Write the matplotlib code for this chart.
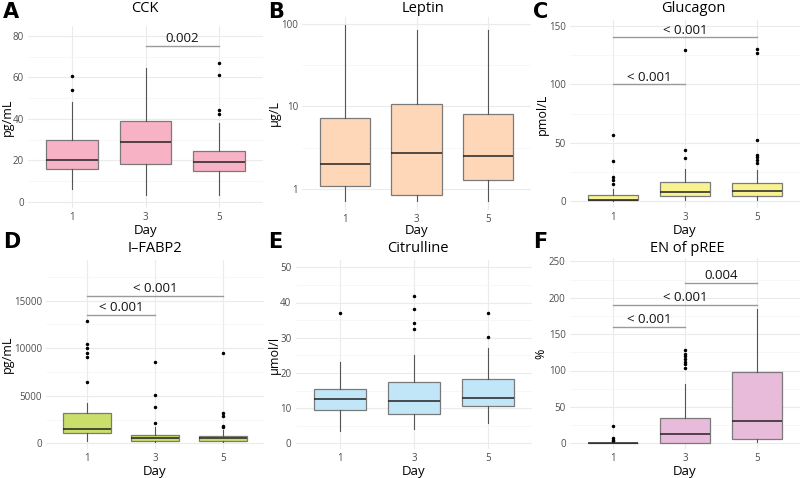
import matplotlib
matplotlib.use("Agg")
import matplotlib.pyplot as plt
from matplotlib.ticker import FixedLocator, NullFormatter
import math

plt.rcParams['font.family'] = ['Open Sans', 'DejaVu Sans']

W, H = 800, 478
days = ["1", "3", "5"]

# ---- data ----
cck_q1 = [15.9, 18.2, 15.0]; cck_med = [20.4, 28.7, 19.2]; cck_q3 = [30.1, 38.8, 24.8]
cck_lo = [6.4, 3.5, 3.5]; cck_hi = [48.3, 64.4, 38.1]
cck_out = [[60.5, 54.2], [], [67.0, 61.3, 44.1, 42.3]]

lep_q1 = [1.09, 0.853, 1.29]; lep_med = [2.01, 2.71, 2.54]; lep_q3 = [7.28, 10.6, 8.22]
lep_lo = [0.715, 0.715, 0.715]; lep_hi = [96.3, 83.8, 83.8]
lep_out = [[], [], []]

glu_q1 = [0.6, 4.6, 4.3]; glu_med = [0.9, 8.0, 8.9]; glu_q3 = [4.9, 16.3, 15.1]
glu_lo = [0.0, 0.5, 0.9]; glu_hi = [10.6, 27.1, 26.6]
glu_out = [[56.9, 34.0, 20.3, 18.0, 14.3], [129.7, 44.0, 37.1],
           [130.0, 127.1, 52.3, 39.7, 37.4, 35.1, 32.3]]

fab_q1 = [1051, 210, 210]; fab_med = [1542, 526, 526]; fab_q3 = [3154, 911, 806]
fab_lo = [200, 140, 140]; fab_hi = [4205, 1682, 1367]
fab_out = [[12827, 10409, 9988, 9533, 9077, 6400], [8587, 5082, 3785, 2173],
           [9533, 3224, 2874, 1857, 1717]]

cit_q1 = [9.4, 8.3, 10.6]; cit_med = [12.5, 11.9, 12.8]; cit_q3 = [15.4, 17.5, 18.2]
cit_lo = [3.6, 4.0, 5.9]; cit_hi = [23.1, 25.1, 27.2]
cit_out = [[37.0], [41.8, 38.2, 34.1, 32.4], [36.9, 30.2]]

en_q1 = [0.0, 0.9, 6.4]; en_med = [0.4, 12.8, 30.1]; en_q3 = [0.9, 34.2, 98.5]
en_lo = [0.0, 0.0, 1.8]; en_hi = [0.9, 82.1, 184.3]
en_out = [[23.7, 6.8, 4.6, 3.2], [127.7, 123.2, 119.5, 115.9, 112.2, 108.6, 104.0], []]

# brackets: (from index, to index, y, label)
cck_sig = [(2, 3, 75.2, "0.002")]
glu_sig = [(1, 2, 100.0, "< 0.001"), (1, 3, 140.3, "< 0.001")]
fab_sig = [(1, 2, 13493, "< 0.001"), (1, 3, 15491, "< 0.001")]
en_sig = [(1, 2, 160.1, "< 0.001"), (1, 3, 190.2, "< 0.001"), (2, 3, 220.3, "0.004")]

panels = [
    dict(letter="A", title="CCK", ylabel="pg/mL", color="#F7B3C5",
         q1=cck_q1, med=cck_med, q3=cck_q3, lo=cck_lo, hi=cck_hi, out=cck_out, sig=cck_sig,
         c1=72, sp=73.5, ref=(0, 202, 80, 36), ylim=(-3, 85), log=False,
         yticks=[0, 20, 40, 60, 80], minor=[10, 30, 50, 70],
         tx=145, ty=9, lx=3, ly=12, ylx=7, row=0),
    dict(letter="B", title="Leptin", ylabel="µg/L", color="#FDD7B8",
         q1=lep_q1, med=lep_med, q3=lep_q3, lo=lep_lo, hi=lep_hi, out=lep_out, sig=[],
         c1=345, sp=71.5, ref=(1, 189, 100, 24), ylim=(0.56, 123), log=True,
         yticks=[1, 10, 100], minor=[10 ** 0.5, 10 ** 1.5],
         tx=423, ty=9, lx=268, ly=12, ylx=274, row=0),
    dict(letter="C", title="Glucagon", ylabel="pmol/L", color="#F8F290",
         q1=glu_q1, med=glu_med, q3=glu_q3, lo=glu_lo, hi=glu_hi, out=glu_out, sig=glu_sig,
         c1=613, sp=72, ref=(0, 201, 150, 26), ylim=(-6, 155), log=False,
         yticks=[0, 50, 100, 150], minor=[25, 75, 125],
         tx=693, ty=9, lx=533, ly=12, ylx=542, row=0),
    dict(letter="D", title="I\u2013FABP2", ylabel="pg/mL", color="#CADF6B",
         q1=fab_q1, med=fab_med, q3=fab_q3, lo=fab_lo, hi=fab_hi, out=fab_out, sig=fab_sig,
         c1=87, sp=68, ref=(0, 443.3, 15000, 300.7), ylim=(-600, 19300), log=False,
         yticks=[0, 5000, 10000, 15000], minor=[2500, 7500, 12500, 17500],
         tx=155, ty=248, lx=3, ly=242, ylx=7, row=1),
    dict(letter="E", title="Citrulline", ylabel="µmol/l", color="#C1E6F8",
         q1=cit_q1, med=cit_med, q3=cit_q3, lo=cit_lo, hi=cit_hi, out=cit_out, sig=[],
         c1=340, sp=74, ref=(0, 443.3, 50, 267.3), ylim=(-1.6, 52), log=False,
         yticks=[0, 10, 20, 30, 40, 50], minor=[5, 15, 25, 35, 45],
         tx=418, ty=248, lx=268, ly=242, ylx=274, row=1),
    dict(letter="F", title="EN of pREE", ylabel="%", color="#E7BBD9",
         q1=en_q1, med=en_med, q3=en_q3, lo=en_lo, hi=en_hi, out=en_out, sig=en_sig,
         c1=613, sp=72, ref=(0, 443.3, 250, 261.3), ylim=(-8, 255), log=False,
         yticks=[0, 50, 100, 150, 200, 250], minor=[25, 75, 125, 175, 225],
         tx=687, ty=248, lx=533, ly=242, ylx=541, row=1),
]

fig = plt.figure(figsize=(W / 100, H / 100), dpi=100)


def fx(x):
    return x / W


def fy(y):
    return 1 - y / H


for p in panels:
    v0, p0, v1, p1 = p["ref"]
    lo, hi = p["ylim"]
    t = math.log10 if p["log"] else (lambda v: v)
    b = (p0 - p1) / (t(v1) - t(v0))
    pix = lambda v: p0 - b * (t(v) - t(v0))
    top_px = pix(hi)
    bot_px = pix(lo)
    left_px = p["c1"] - 0.6 * p["sp"]
    width_px = 3.2 * p["sp"]
    ax = fig.add_axes([fx(left_px), fy(bot_px), width_px / W, (bot_px - top_px) / H])
    if p["log"]:
        ax.set_yscale("log")
    ax.set_ylim(lo, hi)
    ax.set_xlim(0.4, 3.6)
    stats = []
    for i in range(3):
        stats.append(dict(q1=p["q1"][i], med=p["med"][i], q3=p["q3"][i],
                          whislo=p["lo"][i], whishi=p["hi"][i], fliers=p["out"][i],
                          label=days[i]))
    ax.bxp(stats, positions=[1, 2, 3], widths=0.7, patch_artist=True,
           showfliers=True,
           boxprops=dict(facecolor=p["color"], edgecolor="#7a7a7a", linewidth=0.9),
           medianprops=dict(color="#222222", linewidth=1.1),
           whiskerprops=dict(color="#555555", linewidth=0.8),
           capprops=dict(linewidth=0),
           flierprops=dict(marker="o", markersize=1.5, markerfacecolor="black",
                           markeredgecolor="black", linestyle="none"),
           zorder=3)
    for (a, c, yv, lab) in p["sig"]:
        ax.plot([a, c], [yv, yv], color="#9a9a9a", lw=1.0, zorder=4)
        ax.annotate(lab, xy=((a + c) / 2, yv), xytext=(0, 0.5), textcoords="offset points",
                    ha="center", va="bottom", fontsize=9.5, color="#111111")
    ax.yaxis.set_major_locator(FixedLocator(p["yticks"]))
    ax.yaxis.set_minor_locator(FixedLocator(p["minor"]))
    ax.yaxis.set_minor_formatter(NullFormatter())
    ax.set_yticklabels([str(v) for v in p["yticks"]])
    ax.set_xticks([1, 2, 3])
    ax.set_xticklabels(days)
    ax.tick_params(axis="both", which="both", length=0, labelsize=7, labelcolor="#4d4d4d", pad=3)
    for s in ax.spines.values():
        s.set_visible(False)
    ax.set_axisbelow(True)
    ax.grid(True, which="major", color="#EBEBEB", lw=0.8)
    ax.grid(True, which="minor", axis="y", color="#F4F4F4", lw=0.5)
    ax.patch.set_alpha(0)
    # texts
    fig.text(fx(p["tx"]), fy(p["ty"]), p["title"], ha="center", va="center", fontsize=10.5)
    fig.text(fx(p["lx"]), fy(p["ly"]), p["letter"], ha="left", va="center",
             fontsize=15, fontweight="bold", family=["DejaVu Sans"])
    fig.text(fx(p["ylx"]), fy((top_px + bot_px) / 2), p["ylabel"], ha="center", va="center",
             rotation=90, fontsize=9)
    day_y = 231 if p["row"] == 0 else 471
    fig.text(fx(p["c1"] + p["sp"]), fy(day_y), "Day", ha="center", va="center", fontsize=9.5)

fig.savefig("out.png", dpi=100)
